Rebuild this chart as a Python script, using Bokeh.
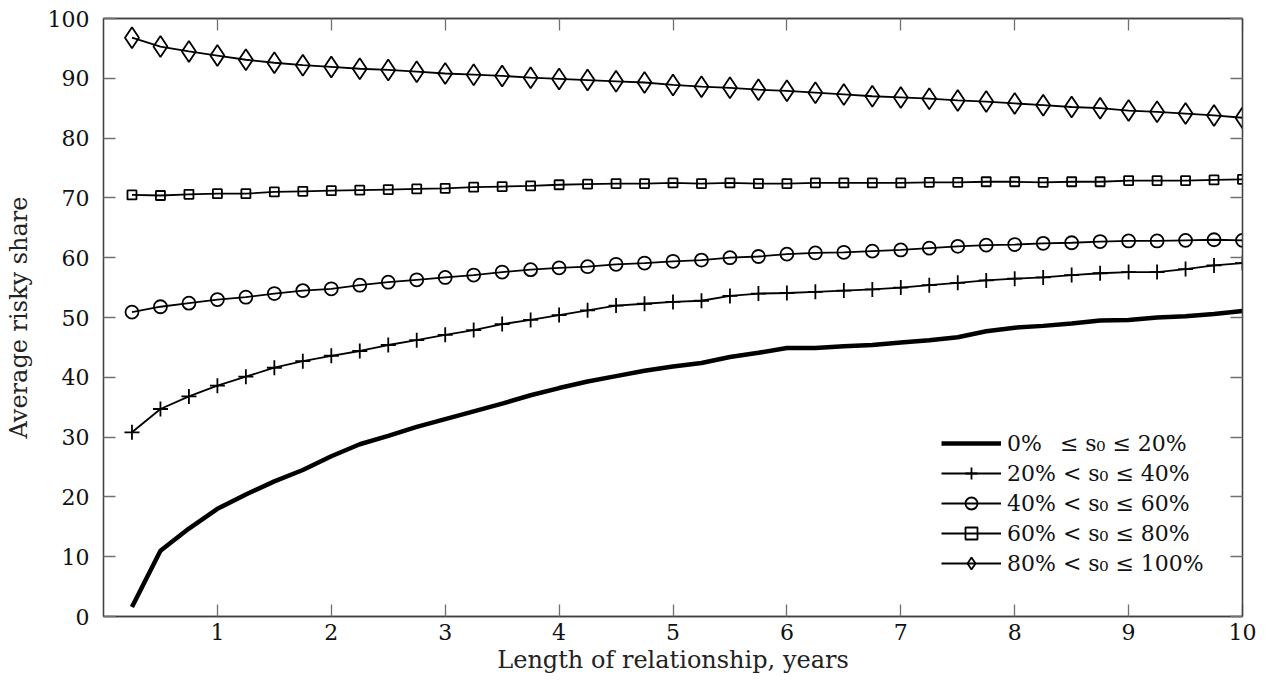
from bokeh.plotting import figure
from bokeh.models import Range1d, FixedTicker, LinearAxis, Legend, LegendItem
from bokeh.embed import file_html
from bokeh.resources import INLINE

years = [0.25, 0.5, 0.75, 1.0, 1.25, 1.5, 1.75, 2.0, 2.25, 2.5,
         2.75, 3.0, 3.25, 3.5, 3.75, 4.0, 4.25, 4.5, 4.75, 5.0,
         5.25, 5.5, 5.75, 6.0, 6.25, 6.5, 6.75, 7.0, 7.25, 7.5,
         7.75, 8.0, 8.25, 8.5, 8.75, 9.0, 9.25, 9.5, 9.75, 10.0]

s_0_20 = [1.6, 11.0, 14.7, 18.0, 20.4, 22.6, 24.5, 26.8, 28.8, 30.2,
          31.7, 33.0, 34.3, 35.6, 37.0, 38.2, 39.3, 40.2, 41.1, 41.8,
          42.4, 43.4, 44.1, 44.9, 44.9, 45.2, 45.4, 45.8, 46.2, 46.7,
          47.7, 48.3, 48.6, 49.0, 49.5, 49.6, 50.0, 50.2, 50.6, 51.1]

s_20_40 = [30.8, 34.7, 36.8, 38.6, 40.1, 41.6, 42.7, 43.6, 44.4, 45.4,
           46.2, 47.1, 47.9, 48.9, 49.6, 50.4, 51.2, 52.0, 52.3, 52.6,
           52.8, 53.6, 54.0, 54.1, 54.3, 54.5, 54.7, 55.0, 55.4, 55.8,
           56.2, 56.5, 56.7, 57.1, 57.4, 57.6, 57.6, 58.1, 58.7, 59.1]

s_40_60 = [50.9, 51.8, 52.4, 53.0, 53.4, 54.0, 54.5, 54.8, 55.4, 55.9,
           56.3, 56.7, 57.1, 57.6, 58.0, 58.3, 58.5, 58.9, 59.1, 59.4,
           59.6, 60.0, 60.2, 60.6, 60.8, 60.9, 61.1, 61.3, 61.6, 61.9,
           62.1, 62.2, 62.4, 62.5, 62.7, 62.8, 62.8, 62.9, 63.0, 62.9]

s_60_80 = [70.5, 70.4, 70.6, 70.7, 70.7, 71.0, 71.1, 71.2, 71.3, 71.4,
           71.5, 71.6, 71.8, 71.9, 72.0, 72.2, 72.3, 72.4, 72.4, 72.5,
           72.4, 72.5, 72.4, 72.4, 72.5, 72.5, 72.5, 72.5, 72.6, 72.6,
           72.7, 72.7, 72.6, 72.7, 72.7, 72.9, 72.9, 72.9, 73.0, 73.1]

s_80_100 = [96.8, 95.3, 94.5, 93.8, 93.1, 92.6, 92.2, 91.9, 91.6, 91.4,
            91.1, 90.8, 90.6, 90.4, 90.1, 89.9, 89.7, 89.5, 89.3, 88.9,
            88.6, 88.4, 88.1, 87.9, 87.6, 87.3, 87.0, 86.8, 86.6, 86.3,
            86.1, 85.8, 85.5, 85.2, 85.0, 84.6, 84.4, 84.1, 83.8, 83.4]

legend_labels = ["0%\u2002\u00a0\u2264 s\u2080 \u2264 20%",
                 "20% < s\u2080 \u2264 40%",
                 "40% < s\u2080 \u2264 60%",
                 "60% < s\u2080 \u2264 80%",
                 "80% < s\u2080 \u2264 100%"]

x_ticks = [1, 2, 3, 4, 5, 6, 7, 8, 9, 10]
y_ticks = [0, 10, 20, 30, 40, 50, 60, 70, 80, 90, 100]

FONT = "DejaVu Serif"
FRAME = "#404040"
TICK = "#707070"

p = figure(width=1266, height=684, x_range=Range1d(0, 10), y_range=Range1d(0, 100),
           output_backend="svg", toolbar_location=None,
           min_border_left=103, min_border_right=24, min_border_top=18, min_border_bottom=68,
           x_axis_label="Length of relationship, years", y_axis_label="Average risky share")
p.grid.visible = False
p.outline_line_color = FRAME
p.outline_line_width = 1.3
p.background_fill_color = "white"
p.border_fill_color = "white"

for ax, ticks in ((p.xaxis[0], x_ticks), (p.yaxis[0], y_ticks)):
    ax.ticker = FixedTicker(ticks=ticks)
    ax.major_tick_in = 12
    ax.major_tick_out = 0
    ax.minor_tick_line_color = None
    ax.major_tick_line_color = TICK
    ax.major_tick_line_width = 1.3
    ax.axis_line_color = FRAME
    ax.axis_line_width = 1.3
    ax.major_label_text_font = FONT
    ax.major_label_text_font_size = "22px"
    ax.major_label_text_color = "#111111"
    ax.axis_label_text_font = FONT
    ax.axis_label_text_font_size = "24px"
    ax.axis_label_text_font_style = "normal"
    ax.axis_label_text_color = "#222222"

p.xaxis[0].major_label_standoff = 7
p.xaxis[0].axis_label_standoff = 3
p.yaxis[0].major_label_standoff = 14
p.yaxis[0].axis_label_standoff = 12

for side, ticks in (("above", x_ticks), ("right", y_ticks)):
    ax = LinearAxis(ticker=FixedTicker(ticks=ticks))
    ax.major_tick_in = 12
    ax.major_tick_out = 0
    ax.minor_tick_line_color = None
    ax.major_tick_line_color = TICK
    ax.major_tick_line_width = 1.3
    ax.axis_line_color = FRAME
    ax.axis_line_width = 1.3
    ax.major_label_text_font_size = "1px"
    ax.major_label_text_color = None
    ax.major_label_standoff = 0
    p.add_layout(ax, side)

items = []
r0 = p.line(years, s_0_20, line_color="black", line_width=4.5)
items.append(LegendItem(label=legend_labels[0], renderers=[r0]))

series = [(s_20_40, "cross", 15), (s_40_60, "circle", 13),
          (s_60_80, "square", 9), (s_80_100, "diamond", 21)]
for i, (vals, marker, size) in enumerate(series):
    rl = p.line(years, vals, line_color="black", line_width=1.8)
    rm = p.scatter(years, vals, marker=marker, size=size, line_color="black",
                   line_width=1.8, fill_alpha=0)
    items.append(LegendItem(label=legend_labels[i + 1], renderers=[rl, rm]))

legend = Legend(items=items, location=(838, 38), padding=0, spacing=0,
                glyph_width=60, glyph_height=30, label_height=30, label_standoff=6,
                label_text_font=FONT, label_text_font_size="22px",
                label_text_color="#111111",
                border_line_alpha=0, background_fill_alpha=0)
p.add_layout(legend, "center")

open("out.html", "w").write(file_html(p, INLINE))
